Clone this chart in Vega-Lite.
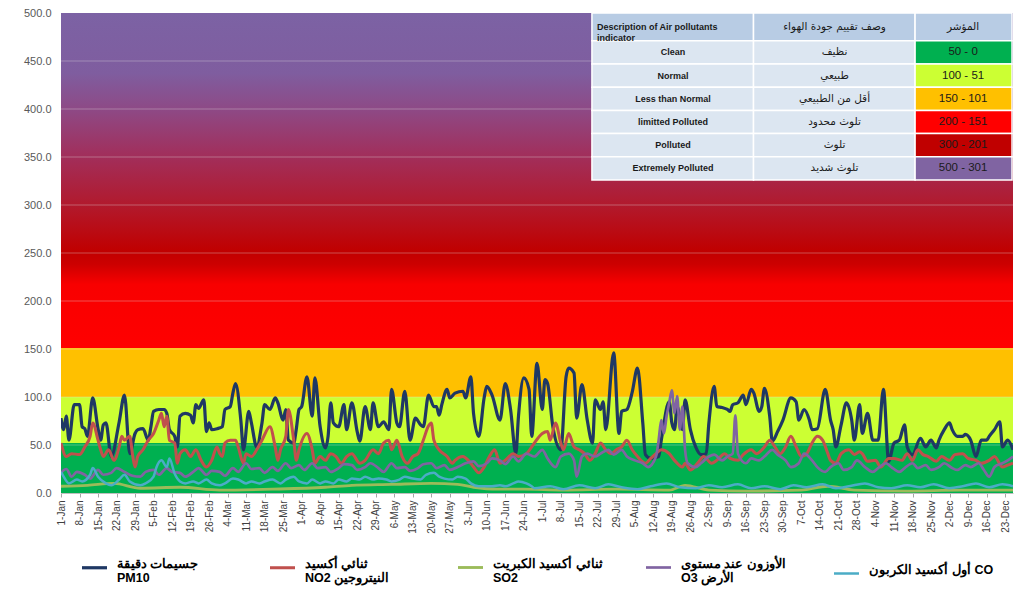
{
"$schema":"https://vega.github.io/schema/vega-lite/v6.json",
"width":952,"height":480,
"autosize":{"type":"none"},
"padding":{"left":61,"top":13,"right":1,"bottom":97},
"background":"#ffffff",
"config":{"view":{"stroke":null},"font":"Liberation Sans"},
"datasets":{
"bands":[{"low":0,"high":52,"level":"Clean"},{"low":52,"high":100,"level":"Normal"},{"low":100,"high":151,"level":"Less than Normal"}],
"upper":[{"low":151,"high":500,"level":"limitted Polluted - Extremely Polluted"}],
"grid":[{"v":50},{"v":100},{"v":150},{"v":200},{"v":250},{"v":300},{"v":350},{"v":400},{"v":450}],
"table":[
{"row":0,"r0":0,"r1":1.2,"col":"en","c0":0,"c1":5,"kind":"header","label":"Description of Air pollutants\nindicator"},
{"row":0,"r0":0,"r1":1.2,"col":"ar","c0":5,"c1":10,"kind":"header","label":"وصف تقييم جودة الهواء"},
{"row":0,"r0":0,"r1":1.2,"col":"idx","c0":10,"c1":13,"kind":"header","label":"المؤشر"},
{"row":1,"r0":1.2,"r1":2.2,"col":"en","c0":0,"c1":5,"kind":"body","label":"Clean"},
{"row":1,"r0":1.2,"r1":2.2,"col":"ar","c0":5,"c1":10,"kind":"body","label":"نظيف"},
{"row":1,"r0":1.2,"r1":2.2,"col":"idx","c0":10,"c1":13,"kind":"Clean","label":"50 - 0"},
{"row":2,"r0":2.2,"r1":3.2,"col":"en","c0":0,"c1":5,"kind":"body","label":"Normal"},
{"row":2,"r0":2.2,"r1":3.2,"col":"ar","c0":5,"c1":10,"kind":"body","label":"طبيعي"},
{"row":2,"r0":2.2,"r1":3.2,"col":"idx","c0":10,"c1":13,"kind":"Normal","label":"100 - 51"},
{"row":3,"r0":3.2,"r1":4.2,"col":"en","c0":0,"c1":5,"kind":"body","label":"Less than Normal"},
{"row":3,"r0":3.2,"r1":4.2,"col":"ar","c0":5,"c1":10,"kind":"body","label":"أقل من الطبيعي"},
{"row":3,"r0":3.2,"r1":4.2,"col":"idx","c0":10,"c1":13,"kind":"Less than Normal","label":"150 - 101"},
{"row":4,"r0":4.2,"r1":5.2,"col":"en","c0":0,"c1":5,"kind":"body","label":"limitted Polluted"},
{"row":4,"r0":4.2,"r1":5.2,"col":"ar","c0":5,"c1":10,"kind":"body","label":"تلوث محدود"},
{"row":4,"r0":4.2,"r1":5.2,"col":"idx","c0":10,"c1":13,"kind":"limitted Polluted","label":"200 - 151"},
{"row":5,"r0":5.2,"r1":6.2,"col":"en","c0":0,"c1":5,"kind":"body","label":"Polluted"},
{"row":5,"r0":5.2,"r1":6.2,"col":"ar","c0":5,"c1":10,"kind":"body","label":"تلوث"},
{"row":5,"r0":5.2,"r1":6.2,"col":"idx","c0":10,"c1":13,"kind":"Polluted","label":"300 - 201"},
{"row":6,"r0":6.2,"r1":7.2,"col":"en","c0":0,"c1":5,"kind":"body","label":"Extremely Polluted"},
{"row":6,"r0":6.2,"r1":7.2,"col":"ar","c0":5,"c1":10,"kind":"body","label":"تلوث شديد"},
{"row":6,"r0":6.2,"r1":7.2,"col":"idx","c0":10,"c1":13,"kind":"Extremely Polluted","label":"500 - 301"}
],
"air":[
{"date":"2020/01/01","series":"PM10","value":78},{"date":"2020/01/02","series":"PM10","value":66},{"date":"2020/01/03","series":"PM10","value":80},{"date":"2020/01/04","series":"PM10","value":55},{"date":"2020/01/06","series":"PM10","value":92},{"date":"2020/01/08","series":"PM10","value":92},{"date":"2020/01/09","series":"PM10","value":69},{"date":"2020/01/10","series":"PM10","value":67},{"date":"2020/01/11","series":"PM10","value":59},{"date":"2020/01/13","series":"PM10","value":99},{"date":"2020/01/15","series":"PM10","value":67},{"date":"2020/01/16","series":"PM10","value":55},{"date":"2020/01/17","series":"PM10","value":71},{"date":"2020/01/18","series":"PM10","value":73},{"date":"2020/01/20","series":"PM10","value":38},{"date":"2020/01/23","series":"PM10","value":74},{"date":"2020/01/25","series":"PM10","value":102},{"date":"2020/01/27","series":"PM10","value":41},{"date":"2020/01/29","series":"PM10","value":62},{"date":"2020/01/30","series":"PM10","value":66},
{"date":"2020/02/01","series":"PM10","value":67},{"date":"2020/02/03","series":"PM10","value":55},{"date":"2020/02/04","series":"PM10","value":69},{"date":"2020/02/05","series":"PM10","value":85},{"date":"2020/02/07","series":"PM10","value":87},{"date":"2020/02/09","series":"PM10","value":87},{"date":"2020/02/10","series":"PM10","value":83},{"date":"2020/02/11","series":"PM10","value":66},{"date":"2020/02/13","series":"PM10","value":59},{"date":"2020/02/14","series":"PM10","value":48},{"date":"2020/02/15","series":"PM10","value":80},{"date":"2020/02/17","series":"PM10","value":83},{"date":"2020/02/19","series":"PM10","value":81},{"date":"2020/02/20","series":"PM10","value":73},{"date":"2020/02/21","series":"PM10","value":92},{"date":"2020/02/22","series":"PM10","value":88},{"date":"2020/02/24","series":"PM10","value":97},{"date":"2020/02/25","series":"PM10","value":64},{"date":"2020/02/26","series":"PM10","value":73},{"date":"2020/02/27","series":"PM10","value":66},{"date":"2020/02/29","series":"PM10","value":67},
{"date":"2020/03/02","series":"PM10","value":69},{"date":"2020/03/03","series":"PM10","value":87},{"date":"2020/03/05","series":"PM10","value":90},{"date":"2020/03/06","series":"PM10","value":104},{"date":"2020/03/07","series":"PM10","value":114},{"date":"2020/03/09","series":"PM10","value":76},{"date":"2020/03/10","series":"PM10","value":45},{"date":"2020/03/12","series":"PM10","value":85},{"date":"2020/03/13","series":"PM10","value":73},{"date":"2020/03/15","series":"PM10","value":48},{"date":"2020/03/17","series":"PM10","value":73},{"date":"2020/03/18","series":"PM10","value":92},{"date":"2020/03/20","series":"PM10","value":87},{"date":"2020/03/22","series":"PM10","value":99},{"date":"2020/03/23","series":"PM10","value":94},{"date":"2020/03/25","series":"PM10","value":76},{"date":"2020/03/26","series":"PM10","value":87},{"date":"2020/03/27","series":"PM10","value":55},{"date":"2020/03/29","series":"PM10","value":52},{"date":"2020/03/30","series":"PM10","value":67},{"date":"2020/03/31","series":"PM10","value":87},
{"date":"2020/04/01","series":"PM10","value":90},{"date":"2020/04/03","series":"PM10","value":121},{"date":"2020/04/05","series":"PM10","value":80},{"date":"2020/04/06","series":"PM10","value":120},{"date":"2020/04/08","series":"PM10","value":69},{"date":"2020/04/10","series":"PM10","value":47},{"date":"2020/04/11","series":"PM10","value":59},{"date":"2020/04/12","series":"PM10","value":94},{"date":"2020/04/13","series":"PM10","value":73},{"date":"2020/04/15","series":"PM10","value":69},{"date":"2020/04/17","series":"PM10","value":92},{"date":"2020/04/18","series":"PM10","value":66},{"date":"2020/04/20","series":"PM10","value":94},{"date":"2020/04/22","series":"PM10","value":64},{"date":"2020/04/23","series":"PM10","value":54},{"date":"2020/04/25","series":"PM10","value":90},{"date":"2020/04/27","series":"PM10","value":66},{"date":"2020/04/28","series":"PM10","value":94},{"date":"2020/04/30","series":"PM10","value":69},
{"date":"2020/05/02","series":"PM10","value":74},{"date":"2020/05/04","series":"PM10","value":66},{"date":"2020/05/05","series":"PM10","value":108},{"date":"2020/05/07","series":"PM10","value":73},{"date":"2020/05/08","series":"PM10","value":69},{"date":"2020/05/10","series":"PM10","value":106},{"date":"2020/05/12","series":"PM10","value":55},{"date":"2020/05/14","series":"PM10","value":78},{"date":"2020/05/16","series":"PM10","value":71},{"date":"2020/05/17","series":"PM10","value":69},{"date":"2020/05/19","series":"PM10","value":102},{"date":"2020/05/21","series":"PM10","value":90},{"date":"2020/05/22","series":"PM10","value":90},{"date":"2020/05/23","series":"PM10","value":81},{"date":"2020/05/24","series":"PM10","value":92},{"date":"2020/05/26","series":"PM10","value":108},{"date":"2020/05/27","series":"PM10","value":99},{"date":"2020/05/29","series":"PM10","value":104},
{"date":"2020/06/01","series":"PM10","value":106},{"date":"2020/06/02","series":"PM10","value":99},{"date":"2020/06/04","series":"PM10","value":121},{"date":"2020/06/05","series":"PM10","value":83},{"date":"2020/06/07","series":"PM10","value":59},{"date":"2020/06/09","series":"PM10","value":99},{"date":"2020/06/10","series":"PM10","value":111},{"date":"2020/06/12","series":"PM10","value":102},{"date":"2020/06/15","series":"PM10","value":76},{"date":"2020/06/17","series":"PM10","value":114},{"date":"2020/06/19","series":"PM10","value":87},{"date":"2020/06/21","series":"PM10","value":41},{"date":"2020/06/22","series":"PM10","value":80},{"date":"2020/06/24","series":"PM10","value":120},{"date":"2020/06/26","series":"PM10","value":108},{"date":"2020/06/27","series":"PM10","value":59},{"date":"2020/06/29","series":"PM10","value":135},
{"date":"2020/07/01","series":"PM10","value":87},{"date":"2020/07/02","series":"PM10","value":118},{"date":"2020/07/03","series":"PM10","value":114},{"date":"2020/07/05","series":"PM10","value":69},{"date":"2020/07/08","series":"PM10","value":45},{"date":"2020/07/10","series":"PM10","value":121},{"date":"2020/07/11","series":"PM10","value":130},{"date":"2020/07/13","series":"PM10","value":125},{"date":"2020/07/14","series":"PM10","value":78},{"date":"2020/07/16","series":"PM10","value":113},{"date":"2020/07/18","series":"PM10","value":76},{"date":"2020/07/20","series":"PM10","value":52},{"date":"2020/07/21","series":"PM10","value":97},{"date":"2020/07/23","series":"PM10","value":87},{"date":"2020/07/24","series":"PM10","value":95},{"date":"2020/07/25","series":"PM10","value":66},{"date":"2020/07/28","series":"PM10","value":146},{"date":"2020/07/30","series":"PM10","value":62},{"date":"2020/07/31","series":"PM10","value":85},
{"date":"2020/08/02","series":"PM10","value":87},{"date":"2020/08/04","series":"PM10","value":105},{"date":"2020/08/06","series":"PM10","value":130},{"date":"2020/08/08","series":"PM10","value":73},{"date":"2020/08/09","series":"PM10","value":40},{"date":"2020/08/11","series":"PM10","value":36},{"date":"2020/08/14","series":"PM10","value":38},{"date":"2020/08/15","series":"PM10","value":55},{"date":"2020/08/18","series":"PM10","value":95},{"date":"2020/08/19","series":"PM10","value":73},{"date":"2020/08/20","series":"PM10","value":66},{"date":"2020/08/21","series":"PM10","value":90},{"date":"2020/08/23","series":"PM10","value":66},{"date":"2020/08/24","series":"PM10","value":97},{"date":"2020/08/26","series":"PM10","value":66},{"date":"2020/08/28","series":"PM10","value":48},{"date":"2020/08/30","series":"PM10","value":40},
{"date":"2020/09/01","series":"PM10","value":41},{"date":"2020/09/02","series":"PM10","value":73},{"date":"2020/09/04","series":"PM10","value":111},{"date":"2020/09/05","series":"PM10","value":90},{"date":"2020/09/07","series":"PM10","value":89},{"date":"2020/09/09","series":"PM10","value":87},{"date":"2020/09/10","series":"PM10","value":85},{"date":"2020/09/11","series":"PM10","value":92},{"date":"2020/09/13","series":"PM10","value":94},{"date":"2020/09/15","series":"PM10","value":102},{"date":"2020/09/16","series":"PM10","value":92},{"date":"2020/09/18","series":"PM10","value":108},{"date":"2020/09/19","series":"PM10","value":104},{"date":"2020/09/21","series":"PM10","value":85},{"date":"2020/09/22","series":"PM10","value":90},{"date":"2020/09/23","series":"PM10","value":109},{"date":"2020/09/25","series":"PM10","value":80},{"date":"2020/09/26","series":"PM10","value":54},{"date":"2020/09/28","series":"PM10","value":64},{"date":"2020/09/30","series":"PM10","value":76},
{"date":"2020/10/03","series":"PM10","value":99},{"date":"2020/10/05","series":"PM10","value":95},{"date":"2020/10/06","series":"PM10","value":76},{"date":"2020/10/08","series":"PM10","value":87},{"date":"2020/10/10","series":"PM10","value":76},{"date":"2020/10/11","series":"PM10","value":66},{"date":"2020/10/13","series":"PM10","value":67},{"date":"2020/10/16","series":"PM10","value":108},{"date":"2020/10/18","series":"PM10","value":76},{"date":"2020/10/19","series":"PM10","value":66},{"date":"2020/10/20","series":"PM10","value":48},{"date":"2020/10/22","series":"PM10","value":71},{"date":"2020/10/24","series":"PM10","value":94},{"date":"2020/10/26","series":"PM10","value":76},{"date":"2020/10/27","series":"PM10","value":55},{"date":"2020/10/29","series":"PM10","value":92},{"date":"2020/10/30","series":"PM10","value":62},
{"date":"2020/11/01","series":"PM10","value":83},{"date":"2020/11/03","series":"PM10","value":55},{"date":"2020/11/05","series":"PM10","value":55},{"date":"2020/11/07","series":"PM10","value":108},{"date":"2020/11/09","series":"PM10","value":33},{"date":"2020/11/11","series":"PM10","value":52},{"date":"2020/11/13","series":"PM10","value":55},{"date":"2020/11/15","series":"PM10","value":71},{"date":"2020/11/16","series":"PM10","value":48},{"date":"2020/11/18","series":"PM10","value":40},{"date":"2020/11/21","series":"PM10","value":57},{"date":"2020/11/23","series":"PM10","value":48},{"date":"2020/11/25","series":"PM10","value":55},{"date":"2020/11/27","series":"PM10","value":47},{"date":"2020/11/28","series":"PM10","value":55},{"date":"2020/11/30","series":"PM10","value":66},
{"date":"2020/12/02","series":"PM10","value":73},{"date":"2020/12/03","series":"PM10","value":66},{"date":"2020/12/05","series":"PM10","value":59},{"date":"2020/12/07","series":"PM10","value":59},{"date":"2020/12/08","series":"PM10","value":61},{"date":"2020/12/10","series":"PM10","value":55},{"date":"2020/12/12","series":"PM10","value":38},{"date":"2020/12/14","series":"PM10","value":55},{"date":"2020/12/16","series":"PM10","value":55},{"date":"2020/12/17","series":"PM10","value":59},{"date":"2020/12/19","series":"PM10","value":66},{"date":"2020/12/21","series":"PM10","value":74},{"date":"2020/12/22","series":"PM10","value":48},{"date":"2020/12/24","series":"PM10","value":55},{"date":"2020/12/26","series":"PM10","value":45},

{"date":"2020/01/01","series":"NO2","value":52},{"date":"2020/01/03","series":"NO2","value":38},{"date":"2020/01/05","series":"NO2","value":41},{"date":"2020/01/08","series":"NO2","value":40},{"date":"2020/01/10","series":"NO2","value":48},{"date":"2020/01/12","series":"NO2","value":59},{"date":"2020/01/13","series":"NO2","value":73},{"date":"2020/01/15","series":"NO2","value":55},{"date":"2020/01/16","series":"NO2","value":45},{"date":"2020/01/17","series":"NO2","value":38},{"date":"2020/01/19","series":"NO2","value":45},{"date":"2020/01/21","series":"NO2","value":34},{"date":"2020/01/23","series":"NO2","value":48},{"date":"2020/01/24","series":"NO2","value":59},{"date":"2020/01/25","series":"NO2","value":55},{"date":"2020/01/27","series":"NO2","value":59},{"date":"2020/01/28","series":"NO2","value":41},{"date":"2020/01/29","series":"NO2","value":27},{"date":"2020/01/30","series":"NO2","value":38},
{"date":"2020/02/01","series":"NO2","value":45},{"date":"2020/02/03","series":"NO2","value":55},{"date":"2020/02/05","series":"NO2","value":62},{"date":"2020/02/07","series":"NO2","value":76},{"date":"2020/02/08","series":"NO2","value":83},{"date":"2020/02/09","series":"NO2","value":69},{"date":"2020/02/10","series":"NO2","value":80},{"date":"2020/02/11","series":"NO2","value":55},{"date":"2020/02/13","series":"NO2","value":52},{"date":"2020/02/14","series":"NO2","value":31},{"date":"2020/02/15","series":"NO2","value":41},{"date":"2020/02/17","series":"NO2","value":45},{"date":"2020/02/19","series":"NO2","value":38},{"date":"2020/02/21","series":"NO2","value":45},{"date":"2020/02/23","series":"NO2","value":34},{"date":"2020/02/25","series":"NO2","value":27},{"date":"2020/02/27","series":"NO2","value":34},{"date":"2020/02/29","series":"NO2","value":48},
{"date":"2020/03/01","series":"NO2","value":41},{"date":"2020/03/02","series":"NO2","value":38},{"date":"2020/03/03","series":"NO2","value":52},{"date":"2020/03/05","series":"NO2","value":55},{"date":"2020/03/07","series":"NO2","value":55},{"date":"2020/03/08","series":"NO2","value":48},{"date":"2020/03/10","series":"NO2","value":31},{"date":"2020/03/11","series":"NO2","value":41},{"date":"2020/03/13","series":"NO2","value":38},{"date":"2020/03/15","series":"NO2","value":45},{"date":"2020/03/17","series":"NO2","value":55},{"date":"2020/03/20","series":"NO2","value":69},{"date":"2020/03/22","series":"NO2","value":48},{"date":"2020/03/23","series":"NO2","value":34},{"date":"2020/03/24","series":"NO2","value":45},{"date":"2020/03/26","series":"NO2","value":59},{"date":"2020/03/27","series":"NO2","value":87},{"date":"2020/03/29","series":"NO2","value":55},{"date":"2020/03/30","series":"NO2","value":34},{"date":"2020/03/31","series":"NO2","value":45},
{"date":"2020/04/03","series":"NO2","value":62},{"date":"2020/04/05","series":"NO2","value":45},{"date":"2020/04/06","series":"NO2","value":31},{"date":"2020/04/08","series":"NO2","value":38},{"date":"2020/04/10","series":"NO2","value":34},{"date":"2020/04/12","series":"NO2","value":41},{"date":"2020/04/14","series":"NO2","value":38},{"date":"2020/04/16","series":"NO2","value":31},{"date":"2020/04/18","series":"NO2","value":38},{"date":"2020/04/20","series":"NO2","value":41},{"date":"2020/04/23","series":"NO2","value":31},{"date":"2020/04/25","series":"NO2","value":34},{"date":"2020/04/28","series":"NO2","value":45},{"date":"2020/04/30","series":"NO2","value":41},
{"date":"2020/05/02","series":"NO2","value":52},{"date":"2020/05/04","series":"NO2","value":55},{"date":"2020/05/05","series":"NO2","value":45},{"date":"2020/05/07","series":"NO2","value":55},{"date":"2020/05/09","series":"NO2","value":38},{"date":"2020/05/11","series":"NO2","value":31},{"date":"2020/05/13","series":"NO2","value":38},{"date":"2020/05/15","series":"NO2","value":41},{"date":"2020/05/17","series":"NO2","value":55},{"date":"2020/05/19","series":"NO2","value":70},{"date":"2020/05/20","series":"NO2","value":73},{"date":"2020/05/21","series":"NO2","value":55},{"date":"2020/05/23","series":"NO2","value":45},{"date":"2020/05/26","series":"NO2","value":38},{"date":"2020/05/28","series":"NO2","value":31},{"date":"2020/05/29","series":"NO2","value":34},
{"date":"2020/06/01","series":"NO2","value":38},{"date":"2020/06/03","series":"NO2","value":34},{"date":"2020/06/05","series":"NO2","value":27},{"date":"2020/06/07","series":"NO2","value":21},{"date":"2020/06/09","series":"NO2","value":27},{"date":"2020/06/11","series":"NO2","value":38},{"date":"2020/06/13","series":"NO2","value":45},{"date":"2020/06/15","series":"NO2","value":31},{"date":"2020/06/17","series":"NO2","value":34},{"date":"2020/06/20","series":"NO2","value":41},{"date":"2020/06/22","series":"NO2","value":38},{"date":"2020/06/25","series":"NO2","value":41},{"date":"2020/06/27","series":"NO2","value":48},{"date":"2020/06/28","series":"NO2","value":52},
{"date":"2020/07/01","series":"NO2","value":62},{"date":"2020/07/03","series":"NO2","value":64},{"date":"2020/07/04","series":"NO2","value":55},{"date":"2020/07/06","series":"NO2","value":73},{"date":"2020/07/08","series":"NO2","value":52},{"date":"2020/07/09","series":"NO2","value":45},{"date":"2020/07/11","series":"NO2","value":62},{"date":"2020/07/13","series":"NO2","value":48},{"date":"2020/07/15","series":"NO2","value":45},{"date":"2020/07/17","series":"NO2","value":41},{"date":"2020/07/19","series":"NO2","value":34},{"date":"2020/07/21","series":"NO2","value":41},{"date":"2020/07/23","series":"NO2","value":52},{"date":"2020/07/25","series":"NO2","value":45},{"date":"2020/07/27","series":"NO2","value":41},{"date":"2020/07/29","series":"NO2","value":45},{"date":"2020/07/31","series":"NO2","value":48},
{"date":"2020/08/02","series":"NO2","value":55},{"date":"2020/08/04","series":"NO2","value":45},{"date":"2020/08/06","series":"NO2","value":38},{"date":"2020/08/09","series":"NO2","value":31},{"date":"2020/08/11","series":"NO2","value":36},{"date":"2020/08/13","series":"NO2","value":41},{"date":"2020/08/15","series":"NO2","value":45},{"date":"2020/08/18","series":"NO2","value":41},{"date":"2020/08/20","series":"NO2","value":34},{"date":"2020/08/23","series":"NO2","value":27},{"date":"2020/08/24","series":"NO2","value":31},{"date":"2020/08/26","series":"NO2","value":24},{"date":"2020/08/29","series":"NO2","value":32},{"date":"2020/08/31","series":"NO2","value":38},
{"date":"2020/09/03","series":"NO2","value":31},{"date":"2020/09/05","series":"NO2","value":34},{"date":"2020/09/08","series":"NO2","value":41},{"date":"2020/09/10","series":"NO2","value":36},{"date":"2020/09/13","series":"NO2","value":34},{"date":"2020/09/15","series":"NO2","value":40},{"date":"2020/09/18","series":"NO2","value":45},{"date":"2020/09/20","series":"NO2","value":41},{"date":"2020/09/23","series":"NO2","value":48},{"date":"2020/09/25","series":"NO2","value":55},{"date":"2020/09/27","series":"NO2","value":48},{"date":"2020/09/29","series":"NO2","value":41},
{"date":"2020/10/01","series":"NO2","value":48},{"date":"2020/10/03","series":"NO2","value":59},{"date":"2020/10/05","series":"NO2","value":48},{"date":"2020/10/07","series":"NO2","value":38},{"date":"2020/10/09","series":"NO2","value":41},{"date":"2020/10/11","series":"NO2","value":52},{"date":"2020/10/13","series":"NO2","value":59},{"date":"2020/10/15","series":"NO2","value":55},{"date":"2020/10/17","series":"NO2","value":41},{"date":"2020/10/18","series":"NO2","value":34},{"date":"2020/10/20","series":"NO2","value":31},{"date":"2020/10/22","series":"NO2","value":41},{"date":"2020/10/25","series":"NO2","value":45},{"date":"2020/10/27","series":"NO2","value":40},{"date":"2020/10/29","series":"NO2","value":43},{"date":"2020/10/30","series":"NO2","value":41},
{"date":"2020/11/01","series":"NO2","value":33},{"date":"2020/11/04","series":"NO2","value":34},{"date":"2020/11/06","series":"NO2","value":27},{"date":"2020/11/09","series":"NO2","value":36},{"date":"2020/11/11","series":"NO2","value":36},{"date":"2020/11/14","series":"NO2","value":34},{"date":"2020/11/16","series":"NO2","value":41},{"date":"2020/11/18","series":"NO2","value":34},{"date":"2020/11/20","series":"NO2","value":45},{"date":"2020/11/22","series":"NO2","value":40},{"date":"2020/11/24","series":"NO2","value":38},{"date":"2020/11/27","series":"NO2","value":33},{"date":"2020/11/29","series":"NO2","value":38},
{"date":"2020/12/02","series":"NO2","value":34},{"date":"2020/12/04","series":"NO2","value":40},{"date":"2020/12/07","series":"NO2","value":41},{"date":"2020/12/09","series":"NO2","value":36},{"date":"2020/12/12","series":"NO2","value":34},{"date":"2020/12/14","series":"NO2","value":31},{"date":"2020/12/17","series":"NO2","value":34},{"date":"2020/12/19","series":"NO2","value":38},{"date":"2020/12/22","series":"NO2","value":27},{"date":"2020/12/24","series":"NO2","value":29},{"date":"2020/12/26","series":"NO2","value":31},

{"date":"2020/01/01","series":"SO2","value":7},{"date":"2020/01/11","series":"SO2","value":8},{"date":"2020/01/21","series":"SO2","value":10},{"date":"2020/01/31","series":"SO2","value":5},{"date":"2020/02/15","series":"SO2","value":6},{"date":"2020/03/01","series":"SO2","value":3},{"date":"2020/03/21","series":"SO2","value":4},{"date":"2020/04/10","series":"SO2","value":6},{"date":"2020/04/20","series":"SO2","value":8},{"date":"2020/05/05","series":"SO2","value":9},{"date":"2020/05/20","series":"SO2","value":10},{"date":"2020/05/30","series":"SO2","value":9},{"date":"2020/06/05","series":"SO2","value":6},{"date":"2020/06/14","series":"SO2","value":4},{"date":"2020/06/24","series":"SO2","value":4},{"date":"2020/07/09","series":"SO2","value":3},{"date":"2020/07/29","series":"SO2","value":4},{"date":"2020/08/18","series":"SO2","value":3},{"date":"2020/08/24","series":"SO2","value":8},{"date":"2020/09/02","series":"SO2","value":3},{"date":"2020/09/17","series":"SO2","value":2},{"date":"2020/10/07","series":"SO2","value":3},{"date":"2020/10/17","series":"SO2","value":7},{"date":"2020/10/27","series":"SO2","value":3},{"date":"2020/11/16","series":"SO2","value":2},{"date":"2020/12/06","series":"SO2","value":3},{"date":"2020/12/26","series":"SO2","value":3},

{"date":"2020/01/01","series":"O3","value":21},{"date":"2020/01/03","series":"O3","value":25},{"date":"2020/01/05","series":"O3","value":17},{"date":"2020/01/07","series":"O3","value":22},{"date":"2020/01/10","series":"O3","value":19},{"date":"2020/01/12","series":"O3","value":15},{"date":"2020/01/15","series":"O3","value":24},{"date":"2020/01/17","series":"O3","value":19},{"date":"2020/01/20","series":"O3","value":21},{"date":"2020/01/22","series":"O3","value":26},{"date":"2020/01/25","series":"O3","value":22},{"date":"2020/01/28","series":"O3","value":18},{"date":"2020/01/31","series":"O3","value":17},
{"date":"2020/02/02","series":"O3","value":22},{"date":"2020/02/05","series":"O3","value":24},{"date":"2020/02/07","series":"O3","value":19},{"date":"2020/02/10","series":"O3","value":26},{"date":"2020/02/12","series":"O3","value":22},{"date":"2020/02/15","series":"O3","value":21},{"date":"2020/02/17","series":"O3","value":17},{"date":"2020/02/20","series":"O3","value":22},{"date":"2020/02/22","series":"O3","value":26},{"date":"2020/02/25","series":"O3","value":19},{"date":"2020/02/27","series":"O3","value":23},
{"date":"2020/03/01","series":"O3","value":22},{"date":"2020/03/03","series":"O3","value":18},{"date":"2020/03/06","series":"O3","value":26},{"date":"2020/03/08","series":"O3","value":22},{"date":"2020/03/11","series":"O3","value":31},{"date":"2020/03/13","series":"O3","value":25},{"date":"2020/03/16","series":"O3","value":26},{"date":"2020/03/18","series":"O3","value":21},{"date":"2020/03/21","series":"O3","value":27},{"date":"2020/03/23","series":"O3","value":23},{"date":"2020/03/26","series":"O3","value":31},{"date":"2020/03/28","series":"O3","value":26},{"date":"2020/03/31","series":"O3","value":29},
{"date":"2020/04/02","series":"O3","value":24},{"date":"2020/04/05","series":"O3","value":31},{"date":"2020/04/07","series":"O3","value":26},{"date":"2020/04/10","series":"O3","value":27},{"date":"2020/04/12","series":"O3","value":22},{"date":"2020/04/15","series":"O3","value":26},{"date":"2020/04/17","series":"O3","value":30},{"date":"2020/04/20","series":"O3","value":29},{"date":"2020/04/22","series":"O3","value":24},{"date":"2020/04/25","series":"O3","value":27},{"date":"2020/04/27","series":"O3","value":31},{"date":"2020/04/30","series":"O3","value":26},
{"date":"2020/05/02","series":"O3","value":22},{"date":"2020/05/05","series":"O3","value":31},{"date":"2020/05/07","series":"O3","value":26},{"date":"2020/05/10","series":"O3","value":27},{"date":"2020/05/12","series":"O3","value":23},{"date":"2020/05/15","series":"O3","value":26},{"date":"2020/05/17","series":"O3","value":30},{"date":"2020/05/20","series":"O3","value":31},{"date":"2020/05/22","series":"O3","value":26},{"date":"2020/05/25","series":"O3","value":29},{"date":"2020/05/27","series":"O3","value":24},{"date":"2020/05/30","series":"O3","value":27},
{"date":"2020/06/02","series":"O3","value":31},{"date":"2020/06/05","series":"O3","value":33},{"date":"2020/06/07","series":"O3","value":28},{"date":"2020/06/10","series":"O3","value":31},{"date":"2020/06/12","series":"O3","value":36},{"date":"2020/06/15","series":"O3","value":34},{"date":"2020/06/17","series":"O3","value":30},{"date":"2020/06/20","series":"O3","value":38},{"date":"2020/06/22","series":"O3","value":33},{"date":"2020/06/25","series":"O3","value":41},{"date":"2020/06/28","series":"O3","value":38},
{"date":"2020/07/01","series":"O3","value":45},{"date":"2020/07/03","series":"O3","value":36},{"date":"2020/07/06","series":"O3","value":27},{"date":"2020/07/08","series":"O3","value":38},{"date":"2020/07/11","series":"O3","value":41},{"date":"2020/07/13","series":"O3","value":34},{"date":"2020/07/14","series":"O3","value":17},{"date":"2020/07/16","series":"O3","value":38},{"date":"2020/07/18","series":"O3","value":41},{"date":"2020/07/21","series":"O3","value":38},{"date":"2020/07/23","series":"O3","value":41},{"date":"2020/07/26","series":"O3","value":45},{"date":"2020/07/28","series":"O3","value":40},{"date":"2020/07/31","series":"O3","value":45},
{"date":"2020/08/02","series":"O3","value":38},{"date":"2020/08/05","series":"O3","value":34},{"date":"2020/08/08","series":"O3","value":31},{"date":"2020/08/10","series":"O3","value":27},{"date":"2020/08/13","series":"O3","value":38},{"date":"2020/08/14","series":"O3","value":55},{"date":"2020/08/15","series":"O3","value":76},{"date":"2020/08/16","series":"O3","value":62},{"date":"2020/08/17","series":"O3","value":80},{"date":"2020/08/18","series":"O3","value":94},{"date":"2020/08/19","series":"O3","value":107},{"date":"2020/08/20","series":"O3","value":83},{"date":"2020/08/21","series":"O3","value":101},{"date":"2020/08/22","series":"O3","value":66},{"date":"2020/08/23","series":"O3","value":90},{"date":"2020/08/24","series":"O3","value":45},{"date":"2020/08/25","series":"O3","value":31},{"date":"2020/08/28","series":"O3","value":27},{"date":"2020/08/30","series":"O3","value":31},
{"date":"2020/09/02","series":"O3","value":38},{"date":"2020/09/04","series":"O3","value":40},{"date":"2020/09/07","series":"O3","value":34},{"date":"2020/09/09","series":"O3","value":38},{"date":"2020/09/11","series":"O3","value":41},{"date":"2020/09/12","series":"O3","value":81},{"date":"2020/09/13","series":"O3","value":41},{"date":"2020/09/16","series":"O3","value":31},{"date":"2020/09/18","series":"O3","value":36},{"date":"2020/09/21","series":"O3","value":34},{"date":"2020/09/23","series":"O3","value":38},{"date":"2020/09/26","series":"O3","value":45},{"date":"2020/09/28","series":"O3","value":40},
{"date":"2020/10/01","series":"O3","value":34},{"date":"2020/10/03","series":"O3","value":27},{"date":"2020/10/06","series":"O3","value":31},{"date":"2020/10/08","series":"O3","value":41},{"date":"2020/10/11","series":"O3","value":34},{"date":"2020/10/13","series":"O3","value":27},{"date":"2020/10/16","series":"O3","value":22},{"date":"2020/10/18","series":"O3","value":27},{"date":"2020/10/21","series":"O3","value":31},{"date":"2020/10/23","series":"O3","value":24},{"date":"2020/10/26","series":"O3","value":27},{"date":"2020/10/28","series":"O3","value":34},{"date":"2020/10/31","series":"O3","value":27},
{"date":"2020/11/03","series":"O3","value":22},{"date":"2020/11/05","series":"O3","value":26},{"date":"2020/11/08","series":"O3","value":31},{"date":"2020/11/10","series":"O3","value":27},{"date":"2020/11/13","series":"O3","value":22},{"date":"2020/11/15","series":"O3","value":26},{"date":"2020/11/18","series":"O3","value":31},{"date":"2020/11/20","series":"O3","value":26},{"date":"2020/11/23","series":"O3","value":29},{"date":"2020/11/25","series":"O3","value":24},{"date":"2020/11/28","series":"O3","value":27},{"date":"2020/11/30","series":"O3","value":31},
{"date":"2020/12/03","series":"O3","value":26},{"date":"2020/12/05","series":"O3","value":24},{"date":"2020/12/08","series":"O3","value":29},{"date":"2020/12/10","series":"O3","value":27},{"date":"2020/12/13","series":"O3","value":31},{"date":"2020/12/15","series":"O3","value":24},{"date":"2020/12/17","series":"O3","value":17},{"date":"2020/12/19","series":"O3","value":27},{"date":"2020/12/22","series":"O3","value":31},{"date":"2020/12/24","series":"O3","value":34},{"date":"2020/12/26","series":"O3","value":38},

{"date":"2020/01/01","series":"CO","value":22},{"date":"2020/01/02","series":"CO","value":17},{"date":"2020/01/04","series":"CO","value":10},{"date":"2020/01/07","series":"CO","value":14},{"date":"2020/01/09","series":"CO","value":12},{"date":"2020/01/12","series":"CO","value":19},{"date":"2020/01/13","series":"CO","value":26},{"date":"2020/01/15","series":"CO","value":17},{"date":"2020/01/18","series":"CO","value":10},{"date":"2020/01/20","series":"CO","value":8},{"date":"2020/01/23","series":"CO","value":14},{"date":"2020/01/25","series":"CO","value":19},{"date":"2020/01/27","series":"CO","value":12},{"date":"2020/01/31","series":"CO","value":8},
{"date":"2020/02/02","series":"CO","value":10},{"date":"2020/02/05","series":"CO","value":17},{"date":"2020/02/06","series":"CO","value":26},{"date":"2020/02/08","series":"CO","value":34},{"date":"2020/02/10","series":"CO","value":27},{"date":"2020/02/11","series":"CO","value":36},{"date":"2020/02/13","series":"CO","value":20},{"date":"2020/02/15","series":"CO","value":12},{"date":"2020/02/17","series":"CO","value":10},{"date":"2020/02/20","series":"CO","value":12},{"date":"2020/02/22","series":"CO","value":10},{"date":"2020/02/25","series":"CO","value":14},{"date":"2020/02/27","series":"CO","value":10},
{"date":"2020/03/01","series":"CO","value":8},{"date":"2020/03/03","series":"CO","value":10},{"date":"2020/03/06","series":"CO","value":15},{"date":"2020/03/08","series":"CO","value":14},{"date":"2020/03/11","series":"CO","value":10},{"date":"2020/03/13","series":"CO","value":12},{"date":"2020/03/16","series":"CO","value":10},{"date":"2020/03/18","series":"CO","value":12},{"date":"2020/03/21","series":"CO","value":14},{"date":"2020/03/24","series":"CO","value":10},{"date":"2020/03/26","series":"CO","value":14},{"date":"2020/03/29","series":"CO","value":17},{"date":"2020/03/31","series":"CO","value":12},
{"date":"2020/04/03","series":"CO","value":10},{"date":"2020/04/05","series":"CO","value":14},{"date":"2020/04/08","series":"CO","value":10},{"date":"2020/04/10","series":"CO","value":12},{"date":"2020/04/13","series":"CO","value":10},{"date":"2020/04/15","series":"CO","value":14},{"date":"2020/04/18","series":"CO","value":12},{"date":"2020/04/20","series":"CO","value":15},{"date":"2020/04/23","series":"CO","value":14},{"date":"2020/04/25","series":"CO","value":17},{"date":"2020/04/28","series":"CO","value":14},{"date":"2020/04/30","series":"CO","value":15},
{"date":"2020/05/03","series":"CO","value":14},{"date":"2020/05/05","series":"CO","value":12},{"date":"2020/05/08","series":"CO","value":14},{"date":"2020/05/10","series":"CO","value":17},{"date":"2020/05/13","series":"CO","value":15},{"date":"2020/05/16","series":"CO","value":14},{"date":"2020/05/18","series":"CO","value":19},{"date":"2020/05/21","series":"CO","value":21},{"date":"2020/05/23","series":"CO","value":17},{"date":"2020/05/25","series":"CO","value":15},{"date":"2020/05/28","series":"CO","value":14},{"date":"2020/05/30","series":"CO","value":17},
{"date":"2020/06/02","series":"CO","value":15},{"date":"2020/06/04","series":"CO","value":10},{"date":"2020/06/07","series":"CO","value":7},{"date":"2020/06/09","series":"CO","value":7},{"date":"2020/06/12","series":"CO","value":7},{"date":"2020/06/15","series":"CO","value":8},{"date":"2020/06/17","series":"CO","value":7},{"date":"2020/06/20","series":"CO","value":10},{"date":"2020/06/22","series":"CO","value":12},{"date":"2020/06/25","series":"CO","value":10},{"date":"2020/06/27","series":"CO","value":7},{"date":"2020/06/28","series":"CO","value":5},
{"date":"2020/07/04","series":"CO","value":7},{"date":"2020/07/09","series":"CO","value":4},{"date":"2020/07/15","series":"CO","value":8},{"date":"2020/07/21","series":"CO","value":5},{"date":"2020/07/26","series":"CO","value":9},{"date":"2020/07/31","series":"CO","value":6},{"date":"2020/08/06","series":"CO","value":4},{"date":"2020/08/11","series":"CO","value":7},{"date":"2020/08/17","series":"CO","value":10},{"date":"2020/08/22","series":"CO","value":6},{"date":"2020/08/28","series":"CO","value":5},
{"date":"2020/09/02","series":"CO","value":8},{"date":"2020/09/07","series":"CO","value":6},{"date":"2020/09/13","series":"CO","value":9},{"date":"2020/09/18","series":"CO","value":5},{"date":"2020/09/23","series":"CO","value":7},{"date":"2020/09/29","series":"CO","value":4},{"date":"2020/10/04","series":"CO","value":8},{"date":"2020/10/09","series":"CO","value":6},{"date":"2020/10/15","series":"CO","value":9},{"date":"2020/10/20","series":"CO","value":5},{"date":"2020/10/25","series":"CO","value":7},{"date":"2020/10/31","series":"CO","value":10},
{"date":"2020/11/05","series":"CO","value":6},{"date":"2020/11/10","series":"CO","value":5},{"date":"2020/11/16","series":"CO","value":8},{"date":"2020/11/21","series":"CO","value":6},{"date":"2020/11/26","series":"CO","value":9},{"date":"2020/12/02","series":"CO","value":5},{"date":"2020/12/07","series":"CO","value":7},{"date":"2020/12/12","series":"CO","value":10},{"date":"2020/12/17","series":"CO","value":6},{"date":"2020/12/22","series":"CO","value":9},{"date":"2020/12/26","series":"CO","value":7}
]
},
"layer":[
{
"layer":[
{"data":{"name":"bands"},"mark":{"type":"rect"},
 "encoding":{
  "y":{"field":"low","type":"quantitative","title":null,"scale":{"domain":[0,500],"nice":false,"zero":true},
       "axis":{"values":[0,50,100,150,200,250,300,350,400,450,500],"format":".1f","title":null,"grid":false,"ticks":false,"labelFontSize":11,"labelColor":"#595959","labelPadding":10,"domainColor":"#bfbfbf","labelFont":"Liberation Sans"}},
  "y2":{"field":"high"},
  "fill":{"field":"level","type":"nominal","legend":null,"scale":{"domain":["Clean","Normal","Less than Normal"],"range":["#00b050","#ccff33","#ffc000"]}}
 }},
{"data":{"name":"upper"},"mark":{"type":"rect","fill":{"gradient":"linear","x1":0,"y1":1,"x2":0,"y2":0,"stops":[{"offset":0,"color":"#ff0000"},{"offset":0.19,"color":"#f80000"},{"offset":0.25,"color":"#cc0000"},{"offset":0.29,"color":"#c00000"},{"offset":0.43,"color":"#b11a2e"},{"offset":0.57,"color":"#a22e5a"},{"offset":0.71,"color":"#8e4985"},{"offset":0.82,"color":"#7f5d9f"},{"offset":1,"color":"#7c62a4"}]}},
 "encoding":{"y":{"field":"low","type":"quantitative","title":null},"y2":{"field":"high"}}},
{"data":{"name":"grid"},"mark":{"type":"rule","color":"#e0e0e0","opacity":0.35,"strokeWidth":1},
 "encoding":{"y":{"field":"v","type":"quantitative","title":null}}},
{"data":{"name":"air"},"mark":{"type":"line","interpolate":"monotone","clip":true},
 "encoding":{
  "x":{"field":"date","type":"temporal","title":null,
       "scale":{"domain":[{"year":2020,"month":1,"date":1},{"year":2020,"month":12,"date":26}]},
       "axis":{"format":"%-d-%b","labelAngle":270,"labelFontSize":10,"labelColor":"#404040","labelFont":"Liberation Sans","tickSize":4,"tickColor":"#a6a6a6","domainColor":"#bfbfbf","grid":false,"labelPadding":3,"labelOverlap":false,"title":null,
        "values":[{"year":2020,"month":1,"date":1},{"year":2020,"month":1,"date":8},{"year":2020,"month":1,"date":15},{"year":2020,"month":1,"date":22},{"year":2020,"month":1,"date":29},{"year":2020,"month":2,"date":5},{"year":2020,"month":2,"date":12},{"year":2020,"month":2,"date":19},{"year":2020,"month":2,"date":26},{"year":2020,"month":3,"date":4},{"year":2020,"month":3,"date":11},{"year":2020,"month":3,"date":18},{"year":2020,"month":3,"date":25},{"year":2020,"month":4,"date":1},{"year":2020,"month":4,"date":8},{"year":2020,"month":4,"date":15},{"year":2020,"month":4,"date":22},{"year":2020,"month":4,"date":29},{"year":2020,"month":5,"date":6},{"year":2020,"month":5,"date":13},{"year":2020,"month":5,"date":20},{"year":2020,"month":5,"date":27},{"year":2020,"month":6,"date":3},{"year":2020,"month":6,"date":10},{"year":2020,"month":6,"date":17},{"year":2020,"month":6,"date":24},{"year":2020,"month":7,"date":1},{"year":2020,"month":7,"date":8},{"year":2020,"month":7,"date":15},{"year":2020,"month":7,"date":22},{"year":2020,"month":7,"date":29},{"year":2020,"month":8,"date":5},{"year":2020,"month":8,"date":12},{"year":2020,"month":8,"date":19},{"year":2020,"month":8,"date":26},{"year":2020,"month":9,"date":2},{"year":2020,"month":9,"date":9},{"year":2020,"month":9,"date":16},{"year":2020,"month":9,"date":23},{"year":2020,"month":9,"date":30},{"year":2020,"month":10,"date":7},{"year":2020,"month":10,"date":14},{"year":2020,"month":10,"date":21},{"year":2020,"month":10,"date":28},{"year":2020,"month":11,"date":4},{"year":2020,"month":11,"date":11},{"year":2020,"month":11,"date":18},{"year":2020,"month":11,"date":25},{"year":2020,"month":12,"date":2},{"year":2020,"month":12,"date":9},{"year":2020,"month":12,"date":16},{"year":2020,"month":12,"date":23}]}},
  "y":{"field":"value","type":"quantitative","title":null},
  "color":{"field":"series","type":"nominal",
    "scale":{"domain":["PM10","NO2","SO2","O3","CO"],"range":["#1f3864","#c0504d","#9bbb59","#8064a2","#4bacc6"]},
    "legend":{"title":null,"orient":"none","legendX":19,"legendY":540,"direction":"horizontal","columns":5,"gridAlign":"all","columnPadding":21,"padding":0,
      "symbolType":"stroke","symbolSize":625,"symbolStrokeWidth":3,"labelFont":"Liberation Sans","labelFontSize":12.5,"labelFontWeight":"bold","labelColor":"#000000","labelLimit":300,"labelOffset":8,"labelBaseline":"alphabetic",
      "labelExpr":"datum.label == 'PM10' ? ['جسيمات دقيقة', 'PM10'] : datum.label == 'NO2' ? ['ثنائي أكسيد', 'NO2 النيتروجين'] : datum.label == 'SO2' ? ['ثنائي أكسيد الكبريت', 'SO2'] : datum.label == 'O3' ? ['الأوزون عند مستوى', 'O3 الأرض'] : 'أول أكسيد الكربون CO'"}},
  "strokeWidth":{"field":"series","type":"nominal","legend":null,"scale":{"domain":["PM10","NO2","SO2","O3","CO"],"range":[3.2,2.5,2,2.5,2]}}
 }}
]
},
{
"data":{"name":"table"},
"encoding":{
  "x":{"field":"c0","type":"quantitative","axis":null,"scale":{"domain":[-16.43,13.03],"nice":false,"zero":false}},
  "y":{"field":"r0","type":"quantitative","axis":null,"scale":{"domain":[0,20.7],"reverse":true,"nice":false,"zero":false}}
},
"layer":[
{"mark":{"type":"rect","stroke":"#ffffff","strokeWidth":1.5},
 "encoding":{
  "x2":{"field":"c1"},
  "y2":{"field":"r1"},
  "fill":{"field":"kind","type":"nominal","legend":null,"scale":{"domain":["header","body","Clean","Normal","Less than Normal","limitted Polluted","Polluted","Extremely Polluted"],"range":["#b8cce4","#dce6f1","#00b050","#ccff33","#ffc000","#ff0000","#c00000","#8064a2"]}}
 }},
{"transform":[{"filter":"datum.row == 0 && datum.col == 'en'"}],
 "mark":{"type":"text","align":"left","baseline":"middle","dx":5,"dy":14,"font":"Liberation Sans","fontSize":9,"fontWeight":"bold","lineBreak":"\n","color":"#1a1a1a"},
 "encoding":{"text":{"field":"label"}}},
{"transform":[{"filter":"datum.row == 0 && datum.col == 'ar'"}],
 "mark":{"type":"text","align":"center","baseline":"middle","dx":81,"dy":14,"font":"DejaVu Sans","fontSize":10.5,"color":"#1a1a1a"},
 "encoding":{"text":{"field":"label"}}},
{"transform":[{"filter":"datum.row == 0 && datum.col == 'idx'"}],
 "mark":{"type":"text","align":"center","baseline":"middle","dx":48,"dy":14,"font":"DejaVu Sans","fontSize":10.5,"color":"#1a1a1a"},
 "encoding":{"text":{"field":"label"}}},
{"transform":[{"filter":"datum.row > 0 && datum.col == 'en'"}],
 "mark":{"type":"text","align":"center","baseline":"middle","dx":81,"dy":11.6,"font":"Liberation Sans","fontSize":9,"fontWeight":"bold","color":"#1a1a1a"},
 "encoding":{"text":{"field":"label"}}},
{"transform":[{"filter":"datum.row > 0 && datum.col == 'ar'"}],
 "mark":{"type":"text","align":"center","baseline":"middle","dx":81,"dy":11.6,"font":"DejaVu Sans","fontSize":10.5,"color":"#1a1a1a"},
 "encoding":{"text":{"field":"label"}}},
{"transform":[{"filter":"datum.row > 0 && datum.col == 'idx'"}],
 "mark":{"type":"text","align":"center","baseline":"middle","dx":48,"dy":11.6,"font":"Liberation Sans","fontSize":11.5,"color":"#1a1a1a"},
 "encoding":{"text":{"field":"label"}}}
]
}
],
"resolve":{"scale":{"x":"independent","y":"independent","fill":"independent"}}
}
